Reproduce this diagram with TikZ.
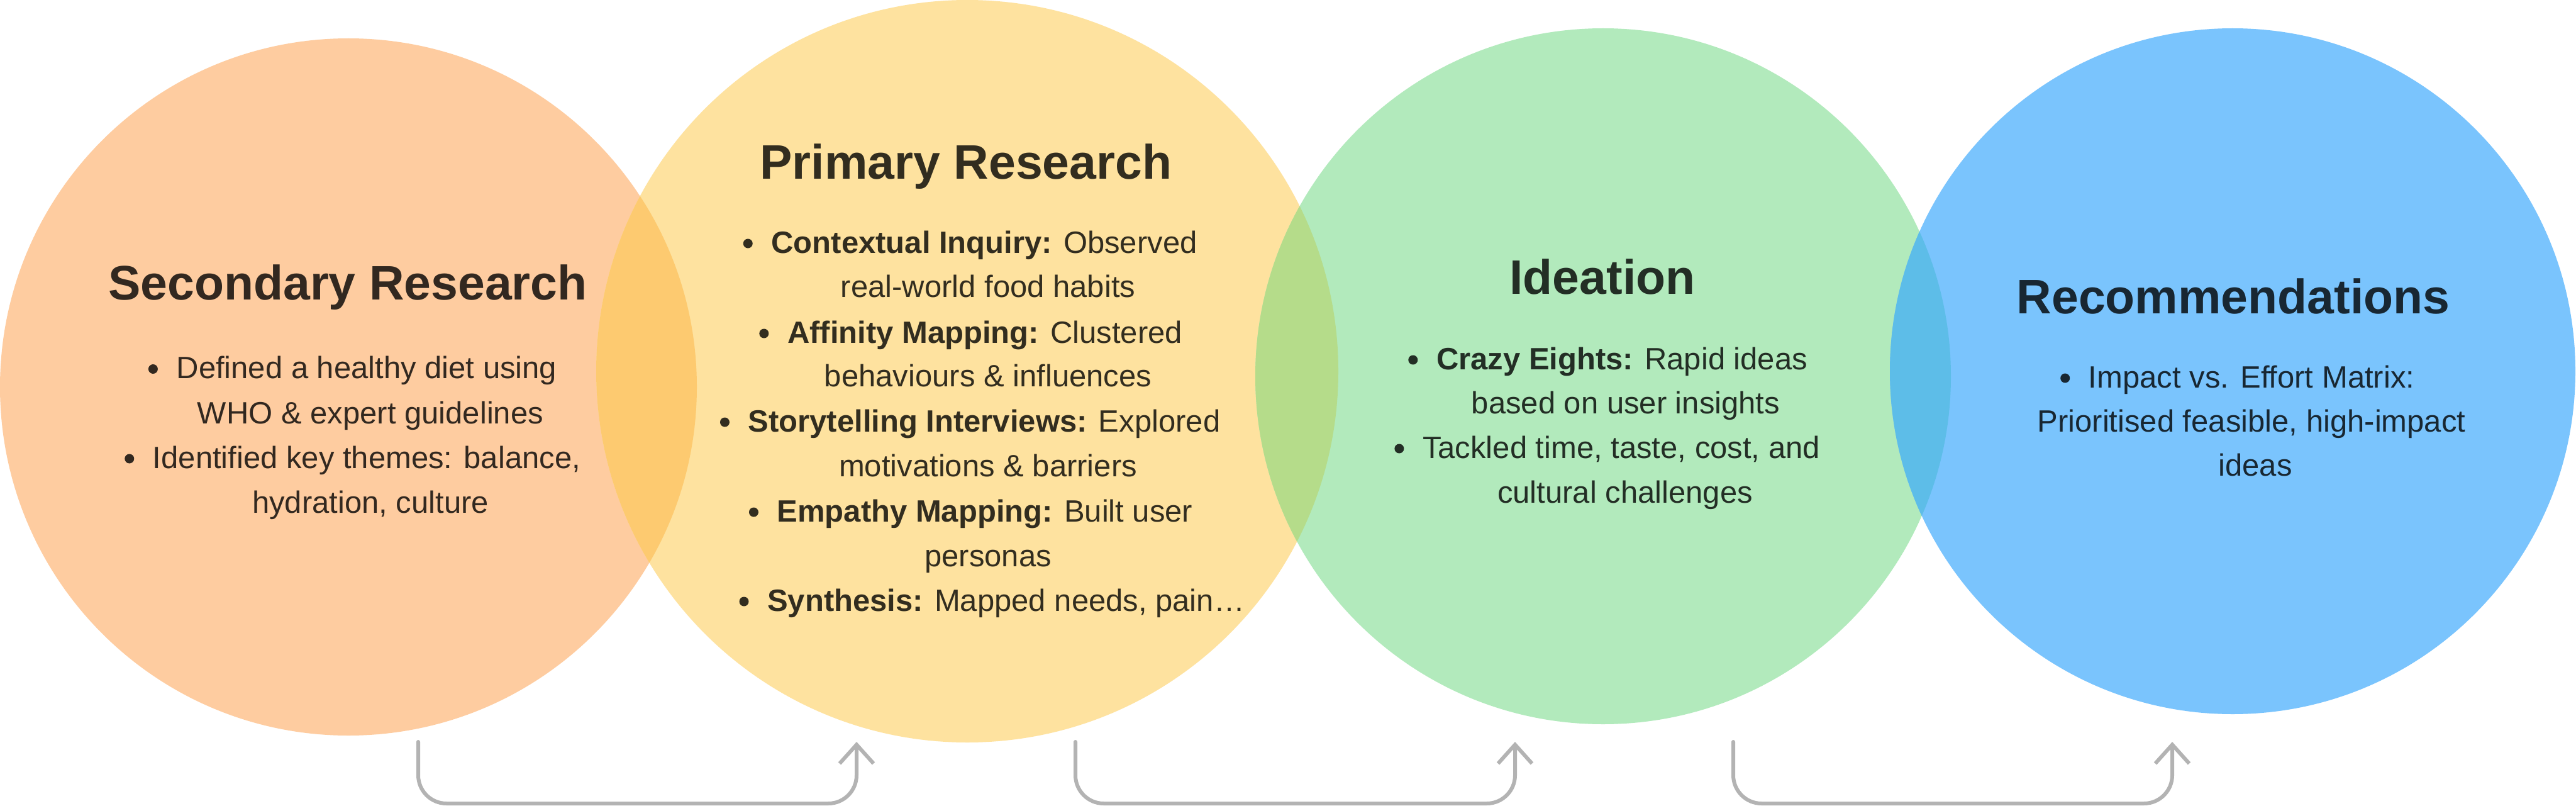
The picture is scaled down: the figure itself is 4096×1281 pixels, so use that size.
\documentclass[tikz,border=0pt]{standalone}
\usepackage{fontspec}
\setmainfont{Liberation Sans}
\usetikzlibrary{arrows.meta,calc}
\definecolor{corange}{RGB}{254,204,160}
\definecolor{cyellow}{RGB}{254,226,159}
\definecolor{cgreen}{RGB}{178,234,188}
\definecolor{cblue}{RGB}{122,196,253}
\definecolor{lensoy}{RGB}{253,202,112}
\definecolor{lensyg}{RGB}{181,220,138}
\definecolor{lensgb}{RGB}{93,189,232}
\definecolor{arrowgray}{RGB}{179,179,179}
\begin{document}
\begin{tikzpicture}[x=1pt,y=-1pt,
  titletext/.style={anchor=base, inner sep=0pt, text=black, text opacity=0.8, font=\fontsize{77}{90}\selectfont\bfseries},
  bodytext/.style={anchor=base, inner sep=0pt, text=black, text opacity=0.8, font=\fontsize{49}{60}\selectfont},
  bulletfill/.style={fill=black, fill opacity=0.8},
  flow/.style={draw=arrowgray, line width=6pt, line cap=round, line join=round, rounded corners=45pt, -{Straight Barb[length=30pt,width=54pt]}}
]
\fill[white] (0,0) rectangle (4096,1281);
\useasboundingbox (0,0) rectangle (4096,1281);

% circles
\coordinate (co) at (554,615);
\coordinate (cy) at (1538,590);
\coordinate (cg) at (2549,598);
\coordinate (cb) at (3550,590);
\fill[corange] (co) circle (554pt);
\fill[cyellow] (cy) circle (590pt);
\fill[cgreen] (cg) circle (553pt);
\fill[cblue] (cb) circle (545pt);
\begin{scope}
  \clip (co) circle (554pt);
  \fill[lensoy] (cy) circle (590pt);
\end{scope}
\begin{scope}
  \clip (cy) circle (590pt);
  \fill[lensyg] (cg) circle (553pt);
\end{scope}
\begin{scope}
  \clip (cg) circle (553pt);
  \fill[lensgb] (cb) circle (545pt);
\end{scope}

% Secondary Research
\node[titletext] (t1) at (553,476) {Secondary Research};
\node[bodytext] (o1) at (583,601.5) {Defined a healthy diet using};
\node[bodytext] (o2) at (589,673) {WHO \& expert guidelines};
\node[bodytext] (o3) at (583,744) {Identified key themes: balance,};
\node[bodytext] (o4) at (589,815) {hydration, culture};

% Primary Research
\node[titletext] (t2) at (1536,285) {Primary Research};
\node[bodytext] (y1) at (1565,402) {{\bfseries Contextual Inquiry:} Observed};
\node[bodytext] (y2) at (1571,472) {real-world food habits};
\node[bodytext] (y3) at (1566,545) {{\bfseries Affinity Mapping:} Clustered};
\node[bodytext] (y4) at (1571,614) {behaviours \& influences};
\node[bodytext] (y5) at (1565,686) {{\bfseries Storytelling Interviews:} Explored};
\node[bodytext] (y6) at (1571,757) {motivations \& barriers};
\node[bodytext] (y7) at (1566,829) {{\bfseries Empathy Mapping:} Built user};
\node[bodytext] (y8) at (1571,900) {personas};
\node[bodytext, anchor=base west] (y9) at (1220,971) {{\bfseries Synthesis:} Mapped needs, pain…};

% Ideation
\node[titletext] (t3) at (2548,467) {Ideation};
\node[bodytext] (g1) at (2579,587) {{\bfseries Crazy Eights:} Rapid ideas};
\node[bodytext] (g2) at (2585,657) {based on user insights};
\node[bodytext] (g3) at (2578,728) {Tackled time, taste, cost, and};
\node[bodytext] (g4) at (2584,799) {cultural challenges};

% Recommendations
\node[titletext] (t4) at (3551,498) {Recommendations};
\node[bodytext] (b1) at (3580,616) {Impact vs. Effort Matrix:};
\node[bodytext] (b2) at (3580,686) {Prioritised feasible, high-impact};
\node[bodytext] (b3) at (3586,756) {ideas};

% bullets
\foreach \n in {o1,o3,y1,y3,y5,y7,y9,g1,g3,b1}
  \fill[bulletfill] ($(\n.base west)+(-37,-15)$) circle (7.5pt);

% flow arrows
\coordinate (a1s) at (665,1179);
\coordinate (a1e) at (1362,1179);
\coordinate (a2s) at (1710,1179);
\coordinate (a2e) at (2409,1179);
\coordinate (a3s) at (2756,1179);
\coordinate (a3e) at (3454,1179);
\draw[flow] (a1s) -- ++(0,98) -| (a1e);
\draw[flow] (a2s) -- ++(0,98) -| (a2e);
\draw[flow] (a3s) -- ++(0,98) -| (a3e);
\end{tikzpicture}
\end{document}
